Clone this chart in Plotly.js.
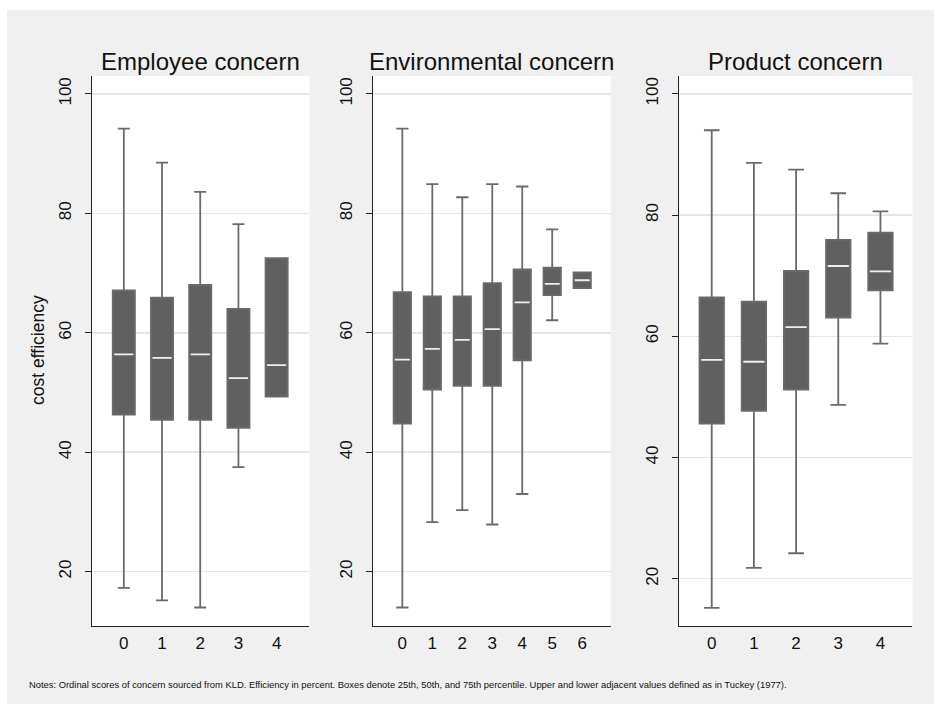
<!DOCTYPE html>
<html>
<head>
<meta charset="utf-8">
<script src="https://cdn.plot.ly/plotly-3.0.1.min.js"></script>
<style>
  html, body { margin: 0; padding: 0; background: #ffffff; width: 934px; height: 704px; overflow: hidden; }
  #chart { position: absolute; left: 7px; top: 10px; width: 927px; height: 694px; }
</style>
</head>
<body>
<div id="chart"></div>
<script>
// ---- Data ----
const panelTitles = ["Employee concern", "Environmental concern", "Product concern"];
const yTitle = "cost efficiency";
const notesText = "Notes: Ordinal scores of concern sourced from KLD. Efficiency in percent. Boxes denote 25th, 50th, and 75th percentile. Upper and lower adjacent values defined as in Tuckey (1977).";
const yTickVals = [20, 40, 60, 80, 100];

const empCats  = [0, 1, 2, 3, 4];
const empUpper = [94.2, 88.5, 83.6, 78.2, 72.5];
const empQ3    = [67.1, 65.9, 68.0, 64.0, 72.5];
const empMed   = [56.4, 55.8, 56.4, 52.4, 54.6];
const empQ1    = [46.3, 45.4, 45.4, 44.1, 49.3];
const empLower = [17.3, 15.2, 14.0, 37.5, 49.3];

const envCats  = [0, 1, 2, 3, 4, 5, 6];
const envUpper = [94.2, 84.9, 82.7, 84.9, 84.5, 77.3, 70.1];
const envQ3    = [66.8, 66.1, 66.1, 68.3, 70.6, 70.9, 70.1];
const envMed   = [55.5, 57.3, 58.8, 60.6, 65.1, 68.2, 68.8];
const envQ1    = [44.8, 50.5, 51.1, 51.1, 55.4, 66.3, 67.5];
const envLower = [14.0, 28.3, 30.3, 27.9, 33.0, 62.1, 67.5];

const prodCats  = [0, 1, 2, 3, 4];
const prodUpper = [94.0, 88.6, 87.5, 83.6, 80.6];
const prodQ3    = [66.4, 65.7, 70.8, 75.9, 77.1];
const prodMed   = [56.1, 55.8, 61.5, 71.6, 70.7];
const prodQ1    = [45.6, 47.7, 51.2, 63.1, 67.6];
const prodLower = [15.2, 21.8, 24.2, 48.7, 58.8];

// ---- Styling ----
const FONT = "Liberation Sans, Arial, Helvetica, sans-serif";
const boxFill = "#606060";
const boxLine = "#6a6a6a";
const medColor = "#eeeeee";
const gridColor = "#e6e6e6";

const panels = [
  {cats: empCats,  up: empUpper,  q3: empQ3,  med: empMed,  q1: empQ1,  lo: empLower,  ww: 0.54},
  {cats: envCats,  up: envUpper,  q3: envQ3,  med: envMed,  q1: envQ1,  lo: envLower,  ww: 0.70},
  {cats: prodCats, up: prodUpper, q3: prodQ3, med: prodMed, q1: prodQ1, lo: prodLower, ww: 0.64}
];

const traces = [];
panels.forEach((p, i) => {
  const xa = i === 0 ? "x" : "x" + (i + 1);
  const ya = i === 0 ? "y" : "y" + (i + 1);
  traces.push({
    type: "box", xaxis: xa, yaxis: ya,
    x: p.cats, q1: p.q1, median: p.med, q3: p.q3,
    lowerfence: p.lo, upperfence: p.up,
    width: 0.58, whiskerwidth: p.ww,
    fillcolor: boxFill,
    line: {color: boxLine, width: 1.8},
    boxpoints: false, hoverinfo: "skip", showlegend: false
  });
  // white median line
  traces.push({
    type: "box", xaxis: xa, yaxis: ya,
    x: p.cats, q1: p.med, median: p.med, q3: p.med,
    lowerfence: p.med, upperfence: p.med,
    width: 0.5, whiskerwidth: 0,
    fillcolor: "rgba(0,0,0,0)",
    line: {color: medColor, width: 1.8},
    boxpoints: false, hoverinfo: "skip", showlegend: false
  });
});

function xAxis(domain, range, cats, anchor) {
  return {
    domain: domain, range: range, anchor: anchor,
    tickmode: "array", tickvals: cats, ticktext: cats.map(String),
    ticks: "", showgrid: false, zeroline: false,
    showline: true, linecolor: "#222", linewidth: 1.5,
    tickfont: {family: FONT, size: 17, color: "#111"},
    ticklabelstandoff: 1, fixedrange: true
  };
}
function yAxis(range, anchor) {
  return {
    domain: [0.1124, 0.9049], range: range, anchor: anchor,
    tickmode: "array", tickvals: yTickVals, ticktext: yTickVals.map(String),
    ticks: "outside", ticklen: 6, tickwidth: 1, tickcolor: "#222",
    tickangle: -90, ticklabelstandoff: 7,
    showgrid: true, gridcolor: gridColor, gridwidth: 1.5,
    zeroline: false, showline: true, linecolor: "#222", linewidth: 1.2,
    tickfont: {family: FONT, size: 17, color: "#111"},
    fixedrange: true
  };
}

const titleX = [(0.0914 + 0.3263) / 2, (0.3951 + 0.6512) / 2, (0.7252 + 0.9768) / 2];
const annotations = panelTitles.map((t, i) => ({
  text: t, xref: "paper", yref: "paper", x: titleX[i], y: 0.9265,
  xanchor: "center", yanchor: "middle", showarrow: false,
  font: {family: FONT, size: 24, color: "#111"}
}));
annotations.push({
  text: yTitle, xref: "paper", yref: "paper", x: 0.0334, y: 0.5101,
  xanchor: "center", yanchor: "middle", showarrow: false, textangle: -90,
  font: {family: FONT, size: 17.5, color: "#111"}
});
annotations.push({
  text: notesText, xref: "paper", yref: "paper", x: 0.0216, y: 0.0288,
  xanchor: "left", yanchor: "middle", showarrow: false,
  font: {family: FONT, size: 9.4, color: "#111"}
});

const layout = {
  width: 927, height: 694, autosize: false,
  margin: {l: 0, r: 0, t: 0, b: 0, pad: 0},
  paper_bgcolor: "#f0f0f0", plot_bgcolor: "#ffffff",
  showlegend: false, boxmode: "overlay",
  xaxis:  xAxis([0.0914, 0.3263], [-0.84, 4.86], empCats, "y"),
  xaxis2: xAxis([0.3951, 0.6512], [-0.97, 6.95], envCats, "y2"),
  xaxis3: xAxis([0.7252, 0.9768], [-0.77, 4.76], prodCats, "y3"),
  yaxis:  yAxis([10.9, 103.0], "x"),
  yaxis2: yAxis([10.9, 103.0], "x2"),
  yaxis3: yAxis([12.2, 102.95], "x3"),
  annotations: annotations
};

Plotly.newPlot("chart", traces, layout, {displayModeBar: false, staticPlot: true});
</script>
</body>
</html>
